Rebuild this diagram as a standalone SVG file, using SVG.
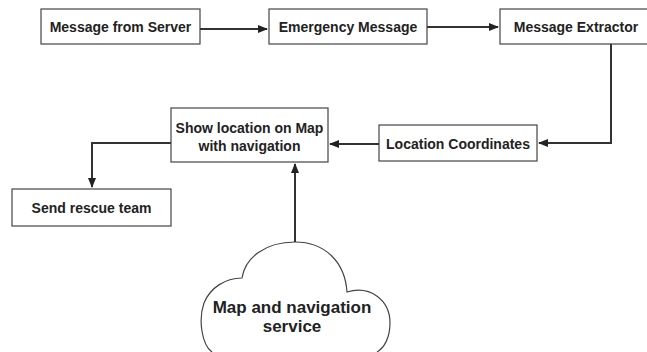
<svg xmlns="http://www.w3.org/2000/svg" width="647" height="352" viewBox="0 0 647 352">
<style>
.box{fill:#fff;stroke:#444;stroke-width:1.2}
.t{font-family:"Liberation Sans",Arial,sans-serif;font-weight:bold;font-size:14px;fill:#222;text-anchor:middle}
.big{font-size:17px}
.c{fill:none;stroke:#333;stroke-width:2}
</style>
<defs>
<marker id="ah" viewBox="0 0 10 10" refX="9" refY="5" markerWidth="5" markerHeight="5" orient="auto">
<path d="M0,1 L10,5 L0,9 z" fill="#222"/>
</marker>
</defs>
<rect width="647" height="352" fill="#fff"/>
<g id="n1"><rect class="box" x="41" y="9" width="159" height="35"/><text class="t" x="120.5" y="31.5">Message from Server</text></g>
<g id="n2"><rect class="box" x="269" y="9" width="158" height="35"/><text class="t" x="348" y="31.5">Emergency Message</text></g>
<g id="n3"><rect class="box" x="500" y="9" width="150" height="35"/><text class="t" x="576" y="31.5">Message Extractor</text></g>
<g id="n4"><rect class="box" x="379" y="125" width="158" height="36"/><text class="t" x="458" y="149">Location Coordinates</text></g>
<g id="n5"><rect class="box" x="171" y="108" width="157" height="54"/><text class="t" x="249.5" y="133">Show location on Map</text><text class="t" x="249.5" y="151">with navigation</text></g>
<g id="n6"><rect class="box" x="12" y="189" width="159" height="37"/><text class="t" x="91.5" y="213">Send rescue team</text></g>
<g id="n7"><path class="box" d="M212,352 C202,345 198,320 204,303 C210,288 225,278 242,278 C245,258 265,242 295,242 C325,242 345,262 347,292 C370,285 390,300 390,323 C390,338 384,348 377,352"/><text class="t big" x="292" y="313">Map and navigation</text><text class="t big" x="292" y="332">service</text></g>
<g id="connectors">
<path class="c" d="M200,29 H267" marker-end="url(#ah)"/>
<path class="c" d="M427,27 H498" marker-end="url(#ah)"/>
<path class="c" d="M611,44 V143 H539" marker-end="url(#ah)"/>
<path class="c" d="M379,144 H330" marker-end="url(#ah)"/>
<path class="c" d="M171,143 H92 V187" marker-end="url(#ah)"/>
<path class="c" d="M295,242 V164" marker-end="url(#ah)"/>
</g>
</svg>
